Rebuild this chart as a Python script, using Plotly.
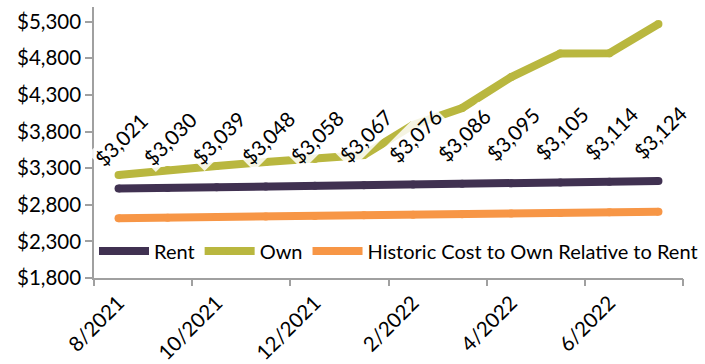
import plotly.graph_objects as go

# Monthly series, Aug 2021 - Jul 2022
months = ["8/2021", "9/2021", "10/2021", "11/2021", "12/2021", "1/2022",
          "2/2022", "3/2022", "4/2022", "5/2022", "6/2022", "7/2022"]
rent = [3021, 3030, 3039, 3048, 3058, 3067, 3076, 3086, 3095, 3105, 3114, 3124]
own = [3206, 3275, 3329, 3384, 3425, 3479, 3889, 4121, 4544, 4866, 4868, 5268]
historic = [2616, 2624, 2632, 2640, 2648, 2656, 2664, 2672, 2680, 2689, 2697, 2705]

tick_labels = ["8/2021", "10/2021", "12/2021", "2/2022", "4/2022", "6/2022"]

FONT = "Lato"
TICK_SIZE = 20.5
AXIS_GRAY = "#A0A0A0"
W, H = 705, 364
PLOT_L, PLOT_R = 94, 683  # horizontal extent of the plotting area in px

idx = list(range(len(months)))
tick_pos = [months.index(m) for m in tick_labels]
boundaries = [i - 0.5 for i in range(0, len(months) + 1, 2)]
x_domain = [PLOT_L / W, PLOT_R / W]

fig = go.Figure()

series = [
    ("Rent", rent, "#403151"),
    ("Own", own, "#B9B73F"),
    ("Historic Cost to Own Relative to Rent", historic, "#F79646"),
]
for name, vals, color in series:
    fig.add_trace(go.Scatter(
        x=idx, y=vals, name=name, mode="lines+markers",
        line=dict(color=color, width=8),
        marker=dict(color=color, size=8),
        hoverinfo="skip",
    ))

# secondary x-axis carrying the tick marks between month pairs
fig.add_trace(go.Scatter(x=[], y=[], xaxis="x2", showlegend=False, hoverinfo="skip"))

# rent value labels
for i, v in zip(idx, rent):
    fig.add_annotation(
        x=i, y=v, text=f"${v:,}", showarrow=False, textangle=-45,
        xanchor="center", yanchor="middle", xshift=2, yshift=49,
        bgcolor="rgba(255,255,255,0.85)",
        font=dict(family=FONT, size=TICK_SIZE, color="#000000"),
    )

fig.update_layout(
    width=W, height=H,
    margin=dict(l=0, r=0, t=7, b=86, autoexpand=False),
    paper_bgcolor="white", plot_bgcolor="white",
    font=dict(family=FONT, size=TICK_SIZE, color="#000000"),
    showlegend=True,
    legend=dict(
        orientation="h", x=PLOT_L / W, y=0.1, xanchor="left", yanchor="middle",
        bgcolor="rgba(0,0,0,0)", font=dict(family=FONT, size=20),
        tracegroupgap=0, itemwidth=50,
    ),
    xaxis=dict(
        domain=x_domain,
        range=[-0.5, len(months) - 0.5],
        tickmode="array", tickvals=tick_pos, ticktext=tick_labels,
        tickangle=-45, ticks="", showgrid=False, zeroline=False,
        showline=True, linecolor=AXIS_GRAY, linewidth=1.5,
        ticklabelstandoff=3,
        tickfont=dict(family=FONT, size=TICK_SIZE),
    ),
    xaxis2=dict(
        overlaying="x", domain=x_domain, range=[-0.5, len(months) - 0.5],
        tickmode="array", tickvals=boundaries, ticks="outside",
        ticklen=7, tickwidth=1.5, tickcolor=AXIS_GRAY,
        showticklabels=False, showgrid=False, zeroline=False, showline=False,
    ),
    yaxis=dict(
        range=[1800, 5500], tick0=1800, dtick=500,
        tickprefix="$", tickformat=",d",
        ticks="outside", ticklen=7, tickwidth=1.5, tickcolor=AXIS_GRAY,
        showline=True, linecolor=AXIS_GRAY, linewidth=1.5,
        showgrid=False, zeroline=False,
        tickfont=dict(family=FONT, size=TICK_SIZE),
    ),
)

fig.write_html("out.html")
